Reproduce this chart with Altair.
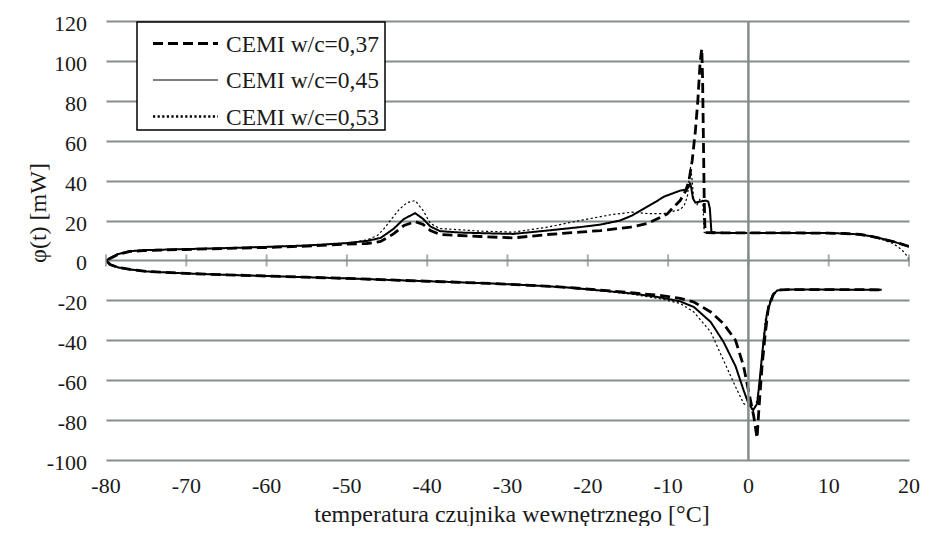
import altair as alt
import pandas as pd

# ---------------- data ----------------
series_names = ["CEMI w/c=0,37", "CEMI w/c=0,45", "CEMI w/c=0,53"]

# w/c = 0,37 (dashed) - cooling branch (upper), right to left
up_x_37 = [20, 19, 18, 17, 16, 15, 14, 12, 10, 5, 0, -3, -5.4, -5.5, -5.6, -5.7, -5.8, -6.0, -6.3,
           -6.6, -7.0, -7.4, -7.8, -8.5, -9.5, -10.1, -11, -12.6, -14.7, -18.4, -21, -25, -29.3,
           -33.4, -36, -38.4, -39.6, -40.5, -41.5, -42.9, -44.2, -45.8, -47.5, -50, -55, -60, -65,
           -70, -75, -77, -78.5, -79.5, -80]
up_y_37 = [7, 8.3, 9.5, 10.5, 11.5, 12.3, 13, 13.5, 13.7, 13.8, 13.8, 13.8, 14, 30, 60, 90, 106, 100,
           80, 65, 50, 40, 35, 30, 26, 23.3, 21.5, 18.5, 16.7, 15, 14.2, 13, 11.3,
           12, 12.5, 13, 15, 18, 19.5, 17.5, 13.3, 9.5, 8.5, 8.2, 7.2, 6.5, 6,
           5.5, 5, 4.5, 3, 1, 0]
# heating branch (lower), left to right
lo_x_37 = [-80, -79.5, -78.5, -77, -75, -70, -65, -60, -55, -50, -43, -37, -31, -26, -22.6, -18,
           -14.3, -11, -8.5, -6.8, -4.7, -3.1, -1.6, -0.6, 0, 0.66, 1.08, 1.3, 1.7, 2.1, 2.5, 3.15,
           3.8, 5, 10, 16.6]
lo_y_37 = [0, -2, -3.5, -4.5, -5.5, -6.5, -7.2, -7.8, -8.4, -9, -10, -10.8, -11.7, -12.7, -13.5, -15,
           -16.3, -17.5, -19, -20.8, -25.8, -31.7, -40, -53, -65, -78, -89, -75, -53, -36.7, -23.3,
           -16.7, -14.7, -14.6, -14.6, -14.7]

# w/c = 0,45 (solid)
up_x_45 = [20, 19, 18, 17, 16, 15, 14, 12, 10, 5, 0, -3, -4.6, -4.7, -4.8, -5.0, -5.3, -6.0, -6.6,
           -6.9, -7.1, -7.25, -7.4, -7.7, -8.5, -9.5, -10.5, -11.5, -12.6, -14.5, -16, -18.4, -21,
           -25, -29.3, -33.4, -36, -38.4, -39.6, -40.5, -41.5, -42.9, -44.2, -45.8, -47.5, -50, -55,
           -60, -65, -70, -75, -77, -78.5, -79.5, -80]
up_y_45 = [7, 8.3, 9.5, 10.5, 11.5, 12.3, 13, 13.5, 13.7, 13.8, 13.8, 13.8, 14, 20, 26, 29.5, 30,
           29.5, 29, 31, 36, 39, 37, 35.5, 35, 33.5, 32, 29.5, 27, 22.5, 20, 18, 16.7,
           15, 13.3, 13.7, 14, 14.7, 17, 20.8, 23.7, 20.8, 15.8, 11.3, 9.8, 8.7, 7.5,
           6.8, 6.2, 5.7, 5.2, 4.7, 3.2, 1.2, 0]
lo_x_45 = [-80, -79.5, -78.5, -77, -75, -70, -65, -60, -55, -50, -43, -37, -31, -26, -22.6, -18,
           -14.3, -11, -8.5, -6.8, -4.7, -3.1, -1.6, -0.6, 0, 0.6, 1.1, 1.45, 1.9, 2.3, 3.0, 3.6,
           5, 10, 16.6]
lo_y_45 = [0, -2, -3.5, -4.5, -5.5, -6.5, -7.2, -7.8, -8.4, -9, -10, -10.8, -11.7, -12.7, -13.5,
           -15.2, -16.6, -18.5, -20.5, -23.3, -30.8, -40.8, -53, -65, -71.7, -75, -71.7, -58,
           -39.7, -26.7, -17.5, -15, -14.6, -14.6, -14.7]

# w/c = 0,53 (dotted)
up_x_53 = [20, 19.7, 19.3, 18.9, 18, 17, 16, 15, 14, 12, 10, 5, 0, -3, -5.5, -5.6, -5.7, -6.0, -6.4,
           -6.8, -7.0, -7.2, -7.4, -7.6, -8.0, -8.5, -9.5, -10.5, -12.5, -14.5, -17, -21, -25,
           -29.3, -33.4, -38.4, -39.6, -40.5, -41.5, -42.5, -43.5, -44.6, -45.4, -46.2, -47.5,
           -50, -55, -60, -65, -70, -75, -77, -78.5, -79.5, -80]
up_y_53 = [0.5, 2.5, 4.5, 6, 8.5, 10, 11.3, 12.3, 13, 13.5, 13.7, 13.8, 13.8, 13.8, 14, 22, 30, 31,
           28, 30, 40, 47, 40, 32, 27.5, 25.5, 24.5, 23.5, 23.5, 24.2, 23, 20, 16.7,
           14.2, 14.7, 16, 18.5, 25, 30, 29, 25.5, 20, 15.8, 12.5, 10.3,
           8.7, 7.5, 6.8, 6.2, 5.7, 5.2, 4.7, 3.2, 1.2, 0]
lo_x_53 = [-80, -79.5, -78.5, -77, -75, -70, -65, -60, -55, -50, -43, -37, -31, -26, -22.6, -18,
           -14.3, -11, -8.5, -6.8, -4.7, -3.1, -1.6, -0.6, 0, 0.4, 0.9, 1.3, 1.7, 2.1, 2.7, 3.4,
           5, 10, 16.6]
lo_y_53 = [0, -2, -3.5, -4.5, -5.5, -6.5, -7.2, -7.8, -8.4, -9, -10, -10.8, -11.7, -12.7, -13.6,
           -15.4, -17, -19.2, -21.5, -25.8, -35.8, -50, -63.3, -71.7, -73, -74.5, -73, -65,
           -46.7, -30, -20, -15.3, -14.6, -14.6, -14.7]

x_ticks = [-80, -70, -60, -50, -40, -30, -20, -10, 0, 10, 20]
y_ticks = [-100, -80, -60, -40, -20, 0, 20, 40, 60, 80, 100, 120]
x_title = "temperatura czujnika wewnętrznego [°C]"
y_title = "φ(t) [mW]"

# ---------------- table ----------------
rows = []
for name, ux, uy, lx, ly in [
    (series_names[0], up_x_37, up_y_37, lo_x_37, lo_y_37),
    (series_names[1], up_x_45, up_y_45, lo_x_45, lo_y_45),
    (series_names[2], up_x_53, up_y_53, lo_x_53, lo_y_53),
]:
    xs = ux + lx[1:]
    ys = uy + ly[1:]
    for i, (xv, yv) in enumerate(zip(xs, ys)):
        rows.append({"series": name, "x": xv, "y": yv, "i": i})
df = pd.DataFrame(rows)

grid_col = "#868c8c"
font = "Liberation Serif"
text_col = "#1a1a1a"
dashes = [[10, 5], [1, 0], [2.2, 2.4]]
widths = [2.8, 1.2, 2.3]
W, H = 803, 439

xscale = alt.Scale(domain=[-80, 20], nice=False, zero=False)
yscale = alt.Scale(domain=[-100, 120], nice=False, zero=False)

x_axis = alt.Axis(values=x_ticks, title=None, grid=False, domain=False, ticks=False,
                  tickSize=0, labels=False)
y_axis = alt.Axis(values=y_ticks, title=None, grid=True, gridColor=grid_col, gridWidth=2,
                  domain=False, ticks=False, tickSize=0, labels=False)

lines = alt.Chart(df).mark_line(color="black", clip=True).encode(
    x=alt.X("x:Q", scale=xscale, axis=x_axis),
    y=alt.Y("y:Q", scale=yscale, axis=y_axis),
    order="i:Q",
    strokeDash=alt.StrokeDash("series:N", scale=alt.Scale(domain=series_names, range=dashes),
                              legend=None),
    strokeWidth=alt.StrokeWidth("series:N", scale=alt.Scale(domain=series_names, range=widths),
                                legend=None),
)

zero_rule = alt.Chart(pd.DataFrame({"x": [0]})).mark_rule(color=grid_col, strokeWidth=2.5).encode(
    x=alt.X("x:Q", scale=xscale, axis=x_axis)
)

tick_df = pd.DataFrame({"x": x_ticks, "y": [0] * len(x_ticks),
                        "lab": [str(v) for v in x_ticks]})
ticks = alt.Chart(tick_df).mark_tick(color=grid_col, thickness=2, size=12, orient="vertical").encode(
    x=alt.X("x:Q", scale=xscale, axis=x_axis),
    y=alt.Y("y:Q", scale=yscale, axis=y_axis),
)

# ---------------- axis labels and titles as text ----------------
x_labels = alt.Chart(tick_df).mark_text(font=font, fontSize=22, color=text_col,
                                        align="center", baseline="alphabetic").encode(
    x=alt.X("x:Q", scale=xscale, axis=x_axis),
    y=alt.value(H + 33),
    text="lab:N",
)
ylab_df = pd.DataFrame({"y": y_ticks, "lab": [str(v) for v in y_ticks]})
y_labels = alt.Chart(ylab_df).mark_text(font=font, fontSize=22, color=text_col,
                                        align="right", baseline="middle", dy=3).encode(
    x=alt.value(-19),
    y=alt.Y("y:Q", scale=yscale, axis=y_axis),
    text="lab:N",
)
one = pd.DataFrame({"a": [0]})
x_title_mark = alt.Chart(one).mark_text(font=font, fontSize=24, color=text_col,
                                        align="center", baseline="alphabetic").encode(
    x=alt.value(406), y=alt.value(H + 62), text=alt.value(x_title)
)
y_title_mark = alt.Chart(one).mark_text(font=font, fontSize=24, color=text_col, angle=270,
                                        align="center", baseline="middle").encode(
    x=alt.value(-67), y=alt.value(192), text=alt.value(y_title)
)

# ---------------- legend box (drawn by hand) ----------------
legend_box = alt.Chart(one).mark_rect(fill="white", stroke="black", strokeWidth=1.5).encode(
    x=alt.value(31), x2=alt.value(279), y=alt.value(1), y2=alt.value(109)
)
legend_layers = [legend_box]
row_y = [22.5, 59, 95.5]
for k, name in enumerate(series_names):
    legend_layers.append(
        alt.Chart(one).mark_rule(color="black", strokeDash=dashes[k], strokeWidth=widths[k]).encode(
            x=alt.value(47), x2=alt.value(112), y=alt.value(row_y[k])
        )
    )
    legend_layers.append(
        alt.Chart(one).mark_text(align="left", baseline="middle", font=font, fontSize=23.5,
                                 color=text_col).encode(
            x=alt.value(120), y=alt.value(row_y[k] + 1), text=alt.value(name)
        )
    )

chart = alt.layer(lines, zero_rule, ticks, x_labels, y_labels, x_title_mark, y_title_mark,
                  *legend_layers).properties(
    width=W, height=H,
    autosize=alt.AutoSizeParams(type="none"),
    padding={"left": 98, "top": 13, "right": 29, "bottom": 66},
).configure(font=font).configure_view(stroke=None)

chart.save("out.html", embed_options={"renderer": "svg", "actions": False})
